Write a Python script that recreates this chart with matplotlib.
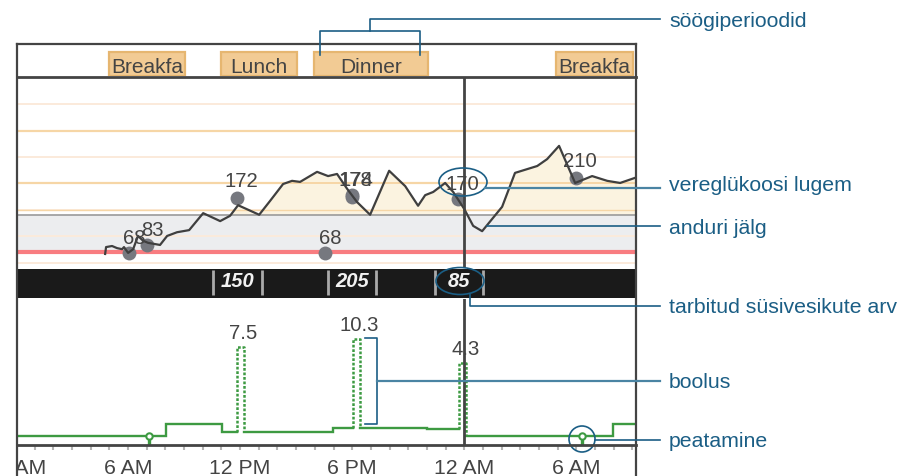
import matplotlib
matplotlib.use("Agg")
import matplotlib.pyplot as plt
from matplotlib.patches import Ellipse, Rectangle
import numpy as np

plt.rcParams['font.family'] = ['Liberation Sans', 'DejaVu Sans']

W, H = 915, 477
XMIN, XMAX = 0.05, 33.2

# sensor trace: hours since midnight, mg/dL
trace_h = [4.77, 4.82, 5.14, 5.41, 5.68, 5.78, 6.0, 6.27, 6.53, 6.80, 7.07, 7.71, 8.09, 8.62, 9.27, 10.02,
           10.93, 11.46, 11.89, 13.02, 13.6, 14.3, 14.78, 15.21, 16.12, 16.71, 17.19, 17.73, 18.26, 18.96,
           19.98, 20.84, 21.53, 21.91, 22.34, 22.98, 23.41, 24.0, 24.48, 24.96, 26.03, 26.72, 27.91, 28.44,
           29.08, 29.94, 30.85, 31.66, 32.35, 33.26]
trace_v = [67, 80, 82, 78, 76, 80, 69, 76, 101, 92, 88, 84, 101, 108, 112, 144,
           129, 139, 159, 141, 167, 199, 205, 203, 222, 214, 218, 190, 165, 141,
           224, 195, 158, 178, 184, 201, 184, 152, 120, 110, 156, 220, 233, 246,
           271, 201, 214, 205, 201, 212]

# meter readings
read_h = [6.05, 7.02, 11.84, 16.55, 18.0, 18.0, 23.67, 30.0]
read_v = [68, 83, 172, 68, 178, 174, 170, 210]

grid_major = [300, 200]
grid_minor = [350, 250, 150, 100, 50]
target_low, target_high = 70, 140

# meals: name, start hour, end hour
meal_names = ['Breakfa', 'Lunch', 'Dinner', 'Breakfa']
meal_start = [4.98, 10.98, 15.96, 28.93]
meal_end = [9.05, 15.05, 22.07, 33.05]

# carbs
carb_h = [11.86, 18.0, 23.72]
carb_v = ['150', '205', '85']
carb_left = [10.55, 16.7, 22.44]
carb_right = [13.17, 19.28, 25.01]

# basal (drawn height)
basal_a_h = [0.0, 8.03, 8.03, 11.03, 11.03, 11.84]
basal_a_v = [0.9, 0.9, 2.1, 2.1, 1.3, 1.3]
basal_b_h = [12.21, 16.98, 16.98, 18.05]
basal_b_v = [1.3, 1.3, 1.7, 1.7]
basal_c_h = [18.43, 22.01, 22.01, 23.73]
basal_c_v = [1.7, 1.7, 1.6, 1.6]
basal_d_h = [24.1, 31.98, 31.98, 33.3]
basal_d_v = [0.9, 0.9, 2.1, 2.1]

bolus_start = [11.84, 18.05, 23.73]
bolus_end = [12.21, 18.43, 24.1]
bolus_base_l = [1.3, 1.7, 1.6]
bolus_base_r = [1.3, 1.7, 0.9]
bolus_top = [9.8, 10.6, 8.2]
bolus_labels = ['7.5', '10.3', '4.3']

suspend_h = [7.12, 30.3]

tick_hours = list(range(0, 34))
label_hours = [0, 6, 12, 18, 24, 30, 36]
label_text = ['12 AM', '6 AM', '12 PM', '6 PM', '12 AM', '6 AM', '12 PM']

cursor_h = 24.0

DARK = '#444444'
BLUE = '#1b5e85'
BLUE2 = '#4a84a3'
GREEN = '#3d9a42'
TXT = '#444444'
FS = 14.6
FS_MEAL = 15
FS_TICK = 15.3
FS_NOTE = 15.3


def box(x0, y0, x1, y1, **kw):
    ax = fig.add_axes([x0 / W, 1 - y1 / H, (x1 - x0) / W, (y1 - y0) / H], **kw)
    ax.set_xticks([])
    ax.set_yticks([])
    for s in ax.spines.values():
        s.set_visible(False)
    ax.set_xlim(XMIN, XMAX)
    return ax


fig = plt.figure(figsize=(W / 100, H / 100), dpi=100, facecolor='white')

# meals
ax_m = box(17, 45, 636, 77)
ax_m.set_ylim(0, 32)
for n, a, b in zip(meal_names, meal_start, meal_end):
    ax_m.add_patch(Rectangle((a, 0), b - a, 24, fc='#f2cb94', ec='#e6b670', lw=1.6))
    ax_m.text((a + b) / 2, 9.5, n, ha='center', va='center', fontsize=FS_MEAL, color=TXT, clip_on=True)

# glucose
ax_g = box(17, 78, 636, 269)
ax_g.set_ylim(40.5, 401)
ax_g.axhspan(target_low, target_high, fc='#ecedef', zorder=0)
for g in grid_minor:
    ax_g.axhline(g, color='#fbeadb', lw=1.4, zorder=1)
for g in grid_major:
    ax_g.axhline(g, color='#f6d6a6', lw=1.6, zorder=1)
h = np.array(trace_h, float)
v = np.array(trace_v, float)
ax_g.fill_between(h, v, target_high, where=v >= target_high, interpolate=True, color='#fbf3e0', lw=0, zorder=1.5)
for g in [200, 150]:
    ax_g.axhline(g, color='#f6d6a6', lw=1.4 if g == 200 else 1.0, zorder=1.6)
ax_g.axhline(target_high, color='#9a9a9a', lw=1.2, zorder=2)
ax_g.axhline(target_low, color='#f87c80', lw=3, zorder=2)
ax_g.plot(read_h, read_v, 'o', color='#76787f', ms=10, mew=0, zorder=3, clip_on=False)
ax_g.plot(h, v, color='#3f3f3f', lw=1.6, zorder=4)
offs = [(5, 16), (5, 16), (4, 18), (5, 16), (3, 16), (4, 18), (4, 16), (4, 18)]
for x, y, o in zip(read_h, read_v, offs):
    ax_g.annotate(str(y), (x, y), xytext=(o[0] * .72, o[1] * .72), textcoords='offset points',
                  ha='center', va='center', fontsize=FS, color=TXT, zorder=5)

# carbs
ax_c = box(17, 270, 636, 299)
ax_c.set_facecolor('#1a1a1a')
ax_c.set_ylim(0, 1)
for x, t in zip(carb_h, carb_v):
    ax_c.text(x, 0.6, t, ha='center', va='center', color='#f2f2f2', fontsize=14.5, style='italic', weight='bold')
for a, b in zip(carb_left, carb_right):
    ax_c.vlines([a, b], 0.1, 0.95, color='#aaaaaa', lw=2)

# insulin
ax_i = box(17, 300, 636, 446)
ax_i.set_ylim(0, 14.6)
for xs, ys in [(basal_a_h, basal_a_v), (basal_b_h, basal_b_v), (basal_c_h, basal_c_v), (basal_d_h, basal_d_v)]:
    ax_i.plot(xs, ys, color=GREEN, lw=1.7, zorder=3, solid_joinstyle='miter')
for a, b, l, r, t, s in zip(bolus_start, bolus_end, bolus_base_l, bolus_base_r, bolus_top, bolus_labels):
    ax_i.plot([a, a, b, b], [l, t, t, r], color=GREEN, lw=1.8, ls=(0, (1.1, 0.7)), zorder=3)
    ax_i.text((a + b) / 2 + 0.15, t + 1.45, s, ha='center', va='center', fontsize=FS, color=TXT, zorder=6)
ax_i.vlines(suspend_h, 0, 0.8, color=GREEN, lw=2.4, zorder=3)
ax_i.plot(suspend_h, [0.95, 0.95], 'o', mfc='white', mec=GREEN, mew=1.5, ms=4.6, zorder=4)

# cursor
ax_g.axvline(cursor_h, color=DARK, lw=2, zorder=4.5)
ax_i.axvline(cursor_h, color=DARK, lw=2, zorder=5)

# time axis
ax_t = box(17, 446, 636, 477)
ax_t.set_ylim(31, 0)
ax_t.vlines(tick_hours, 0, 5, color='#b5b5b5', lw=1.5)
for x, t in zip(label_hours, label_text):
    ax_t.text(x, 23, t, ha='center', va='center', fontsize=FS_TICK, color=TXT, clip_on=True)

# overlay in pixels
ov = fig.add_axes([0, 0, 1, 1], facecolor='none', zorder=10)
ov.set_xlim(0, W)
ov.set_ylim(H, 0)
ov.axis('off')
# frame
ov.plot([17, 17], [45, 477], color=DARK, lw=1.6)
ov.plot([636, 636], [45, 477], color=DARK, lw=1.6)
ov.plot([17, 636], [45, 45], color=DARK, lw=1.6)
ov.plot([17, 636], [77.5, 77.5], color=DARK, lw=2)
ov.plot([17, 636], [446, 446], color=DARK, lw=2)

# callouts
ov.plot([370, 370, 660], [32, 20, 20], color=BLUE, lw=1.2)
ov.plot([320, 320, 420, 420], [56, 32, 32, 56], color=BLUE, lw=1.2)
ov.add_patch(Ellipse((463, 183), 48, 28, fc='none', ec=BLUE, lw=1.2))
ov.plot([485, 660], [189, 189], color=BLUE2, lw=1.6)
ov.plot([487, 660], [227, 227], color=BLUE, lw=1.2)
ov.add_patch(Ellipse((460, 282), 48, 27, fc='none', ec=BLUE, lw=1.2))
ov.plot([470, 470, 660], [295, 307, 307], color=BLUE, lw=1.2)
ov.plot([365, 377, 377, 365], [339, 339, 425, 425], color=BLUE, lw=1.2)
ov.plot([377, 660], [382, 382], color=BLUE2, lw=1.6)
ov.add_patch(Ellipse((582, 440), 26, 26, fc='none', ec=BLUE, lw=1.2))
ov.plot([595, 660], [441, 441], color=BLUE, lw=1.2)

for y, t in zip([21.5, 185.5, 228.5, 308, 382.5, 442],
                ['söögiperioodid', 'vereglükoosi lugem', 'anduri jälg',
                 'tarbitud süsivesikute arv', 'boolus', 'peatamine']):
    ov.text(669, y, t, ha='left', va='center', fontsize=FS_NOTE, color=BLUE)

fig.savefig('out.png', dpi=100)
